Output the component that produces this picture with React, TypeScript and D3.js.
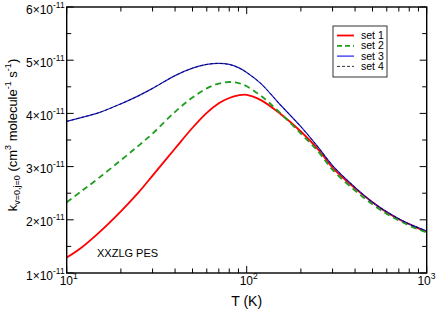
import React, { useRef, useEffect } from 'react';
import * as d3 from 'd3';

// temperature grid (K)
const temps = [10, 12, 15, 20, 25, 30, 40, 50, 60, 70, 80, 90, 100, 120, 150, 200, 250, 300, 400, 500, 600, 700, 800, 900, 1000];

// rate constants, units of 1e-11 cm^3 molecule^-1 s^-1
const set1 = [1.29, 1.47, 1.75, 2.16, 2.51, 2.83, 3.34, 3.73, 4.01, 4.19, 4.29, 4.34, 4.35, 4.25, 4.02, 3.66, 3.32, 2.98, 2.59, 2.33, 2.14, 2.01, 1.92, 1.84, 1.78];
const set2 = [2.33, 2.53, 2.78, 3.12, 3.39, 3.62, 4.03, 4.3, 4.47, 4.56, 4.59, 4.57, 4.51, 4.33, 4.04, 3.62, 3.28, 2.94, 2.55, 2.29, 2.11, 1.99, 1.89, 1.82, 1.76];
const set3 = [3.85, 3.92, 4.01, 4.18, 4.33, 4.47, 4.71, 4.85, 4.92, 4.94, 4.92, 4.86, 4.77, 4.56, 4.2, 3.75, 3.36, 3.02, 2.61, 2.33, 2.15, 2.02, 1.92, 1.85, 1.79];
const set4 = [3.85, 3.92, 4.01, 4.18, 4.33, 4.47, 4.71, 4.85, 4.92, 4.94, 4.92, 4.86, 4.77, 4.56, 4.2, 3.75, 3.36, 3.02, 2.61, 2.33, 2.15, 2.02, 1.92, 1.85, 1.79];

const seriesNames = ['set 1', 'set 2', 'set 3', 'set 4'];
const yMajor = [1, 2, 3, 4, 5, 6];
const yMinor = [1.5, 2.5, 3.5, 4.5, 5.5];
const xMajor = [10, 100, 1000];
const xMinor = [20, 30, 40, 50, 60, 70, 80, 90, 200, 300, 400, 500, 600, 700, 800, 900];

// drawing styles per series
const styles = [
  { color: '#ff0000', width: 1.8, dash: null, legendDash: null },
  { color: '#1f9e1f', width: 1.8, dash: '6,4', legendDash: '5,3' },
  { color: '#2020ee', width: 1.2, dash: null, legendDash: null },
  { color: '#000000', width: 0.8, dash: '3,2', legendDash: '3,2' },
];

export default function App() {
  const ref = useRef<SVGSVGElement>(null);

  useEffect(() => {
    const svg = d3.select(ref.current);
    svg.selectAll('*').remove();

    const left = 66.7, right = 426.7, top = 7, bottom = 273;
    const font = 'Liberation Sans, Arial, sans-serif';

    const x = d3.scaleLog().domain([10, 1000]).range([left, right]);
    const y = d3.scaleLinear().domain([1, 6]).range([bottom, top]);

    // curves
    const line = d3.line<number>()
      .x((_, i) => x(temps[i]))
      .y(d => y(d))
      .curve(d3.curveCatmullRom);

    const plot = svg.append('g');
    [set1, set2, set3, set4].forEach((s, i) => {
      const st = styles[i];
      const p = plot.append('path')
        .attr('d', line(s))
        .attr('fill', 'none')
        .attr('stroke', st.color)
        .attr('stroke-width', st.width);
      if (st.dash) p.attr('stroke-dasharray', st.dash);
    });

    // frame
    svg.append('rect')
      .attr('x', left).attr('y', top)
      .attr('width', right - left).attr('height', bottom - top)
      .attr('fill', 'none').attr('stroke', '#000').attr('stroke-width', 1.4);

    // inward ticks on all four sides
    const ticks = svg.append('g').attr('stroke', '#000').attr('stroke-width', 1);
    const majLen = 7, minLen = 4.5;
    const yTick = (v: number, len: number) => {
      ticks.append('line').attr('x1', left).attr('x2', left + len).attr('y1', y(v)).attr('y2', y(v));
      ticks.append('line').attr('x1', right).attr('x2', right - len).attr('y1', y(v)).attr('y2', y(v));
    };
    const xTick = (v: number, len: number) => {
      ticks.append('line').attr('x1', x(v)).attr('x2', x(v)).attr('y1', bottom).attr('y2', bottom - len);
      ticks.append('line').attr('x1', x(v)).attr('x2', x(v)).attr('y1', top).attr('y2', top + len);
    };
    yMajor.forEach(v => yTick(v, majLen));
    yMinor.forEach(v => yTick(v, minLen));
    xMajor.forEach(v => xTick(v, majLen));
    xMinor.forEach(v => xTick(v, minLen));

    // y tick labels
    yMajor.forEach(v => {
      const t = svg.append('text')
        .attr('x', left - 2).attr('y', y(v) + 6.5)
        .attr('text-anchor', 'end')
        .style('font-family', font).style('font-size', '12px')
        .text(`${v}×10`);
      t.append('tspan').attr('dy', -6).style('font-size', '8.5px').text('-11');
    });

    // x tick labels (last one pulled in so it stays inside the page)
    xMajor.forEach((v, i) => {
      const last = i === xMajor.length - 1;
      const t = svg.append('text')
        .attr('x', last ? 435.5 : x(v) + 2).attr('y', bottom + 12)
        .attr('text-anchor', last ? 'end' : 'middle')
        .style('font-family', font).style('font-size', '12px')
        .text('10');
      t.append('tspan').attr('dy', -6).style('font-size', '8.5px').text(String(Math.log10(v)));
    });

    // axis titles
    svg.append('text')
      .attr('x', (left + right) / 2).attr('y', 305.5)
      .attr('text-anchor', 'middle')
      .style('font-family', font).style('font-size', '14px')
      .text('T (K)');

    const yl = svg.append('text')
      .attr('transform', `translate(17,${(top + bottom) / 2 - 5}) rotate(-90)`)
      .attr('text-anchor', 'middle')
      .style('font-family', font).style('font-size', '13px');
    yl.append('tspan').text('k');
    yl.append('tspan').attr('dy', 3).style('font-size', '9px').text('v=0,j=0');
    yl.append('tspan').attr('dy', -3).text(' (cm');
    yl.append('tspan').attr('dy', -6).style('font-size', '9px').text('3');
    yl.append('tspan').attr('dy', 6).text(' molecule');
    yl.append('tspan').attr('dy', -6).style('font-size', '9px').text('-1');
    yl.append('tspan').attr('dy', 6).text(' s');
    yl.append('tspan').attr('dy', -6).style('font-size', '9px').text('-1');
    yl.append('tspan').attr('dy', 6).text(')');

    // annotation
    svg.append('text')
      .attr('x', 97).attr('y', 257)
      .style('font-family', font).style('font-size', '11px')
      .text('XXZLG PES');

    // legend
    const lg = svg.append('g');
    lg.append('rect')
      .attr('x', 333).attr('y', 26).attr('width', 54).attr('height', 51)
      .attr('fill', '#fff').attr('stroke', '#333').attr('stroke-width', 1);
    seriesNames.forEach((name, i) => {
      const ly = 35.5 + i * 10.3;
      const st = styles[i];
      const l = lg.append('line')
        .attr('x1', 337).attr('x2', 354).attr('y1', ly).attr('y2', ly)
        .attr('stroke', st.color).attr('stroke-width', st.width);
      if (st.legendDash) l.attr('stroke-dasharray', st.legendDash);
      lg.append('text')
        .attr('x', 361).attr('y', ly + 3.6)
        .style('font-family', font).style('font-size', '10.5px')
        .text(name);
    });
  }, []);

  return (
    <svg ref={ref} width={436} height={309}
      style={{ position: 'absolute', left: 0, top: 0, background: '#fff' }} />
  );
}
